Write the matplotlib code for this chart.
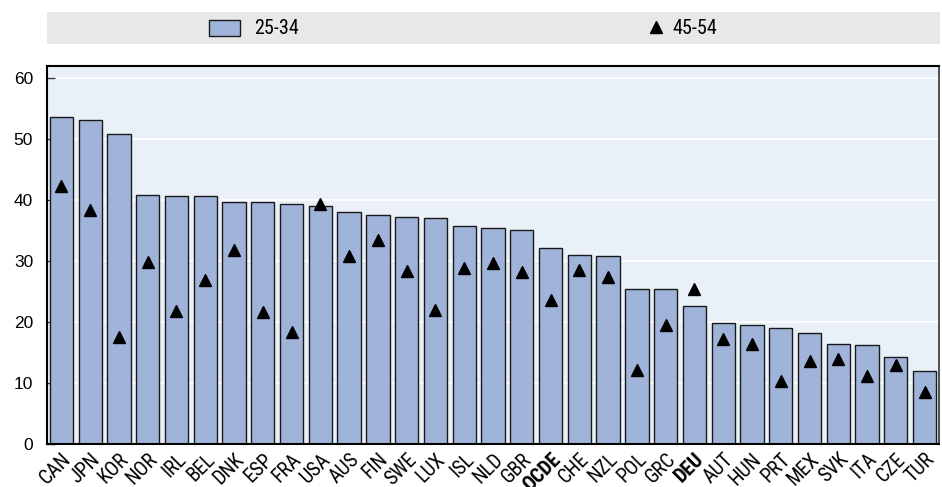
import matplotlib
matplotlib.use("Agg")
import matplotlib.pyplot as plt
from matplotlib.patches import Rectangle

countries = ["CAN", "JPN", "KOR", "NOR", "IRL", "BEL", "DNK", "ESP", "FRA", "USA",
             "AUS", "FIN", "SWE", "LUX", "ISL", "NLD", "GBR", "OCDE", "CHE", "NZL",
             "POL", "GRC", "DEU", "AUT", "HUN", "PRT", "MEX", "SVK", "ITA", "CZE", "TUR"]
age_25_34 = [53.7, 53.1, 50.9, 40.9, 40.7, 40.6, 39.7, 39.7, 39.3, 39.1,
             38.0, 37.6, 37.2, 37.0, 35.8, 35.4, 35.1, 32.2, 31.0, 30.8,
             25.5, 25.4, 22.6, 19.8, 19.6, 19.1, 18.2, 16.4, 16.2, 14.3, 11.9]
age_45_54 = [42.3, 38.4, 17.6, 29.8, 21.8, 26.9, 31.9, 21.6, 18.4, 39.4,
             30.8, 33.5, 28.4, 22.0, 28.8, 29.7, 28.2, 23.6, 28.5, 27.4,
             12.1, 19.5, 25.5, 17.3, 16.4, 10.3, 13.6, 14.0, 11.2, 12.9, 8.6]
bold_labels = ["OCDE", "DEU"]
yticks = [0, 10, 20, 30, 40, 50, 60]

W, H = 942, 487
fig = plt.figure(figsize=(W / 100, H / 100), dpi=100)

label_font = ["Roboto Condensed", "DejaVu Sans"]
tick_font = ["Liberation Sans", "DejaVu Sans"]

ax = fig.add_axes([47 / W, 1 - 444 / H, (939 - 47) / W, (444 - 66) / H])
ax.set_facecolor("#eaf0f8")
x = list(range(len(countries)))
ax.bar(x, age_25_34, width=0.81, color="#a0b4da", edgecolor="#1a1a1a", linewidth=1.0, zorder=2)
ax.plot(x, age_45_54, linestyle="none", marker="^", markersize=9, color="black", zorder=3)

ax.set_xlim(-0.5, len(countries) - 0.5)
ax.set_ylim(0, 62)
ax.set_yticks(yticks)
ax.set_yticklabels([str(t) for t in yticks], fontsize=12.5, family=tick_font)
ax.yaxis.grid(True, color="white", linewidth=1.3, zorder=0)
ax.set_axisbelow(True)
ax.tick_params(axis="y", direction="in", length=6, width=1, color="#333333", pad=10)
ax.tick_params(axis="x", length=0, pad=4)

ax.set_xticks(x)
ax.set_xticklabels(countries, rotation=45, ha="right", va="top", rotation_mode="anchor",
                   fontsize=14.5, family=label_font)
for lbl in ax.get_xticklabels():
    if lbl.get_text() in bold_labels:
        lbl.set_fontweight("bold")

for side in ["left", "top", "bottom"]:
    ax.spines[side].set_color("black")
    ax.spines[side].set_linewidth(1.5)
ax.spines["right"].set_color("#333333")
ax.spines["right"].set_linewidth(1.2)

# legend band
leg_ax = fig.add_axes([47 / W, 1 - 44 / H, (940 - 47) / W, (44 - 12) / H])
leg_ax.set_facecolor("#e8e8e8")
for s in leg_ax.spines.values():
    s.set_visible(False)
leg_ax.set_xticks([])
leg_ax.set_yticks([])
leg_ax.set_xlim(47, 940)
leg_ax.set_ylim(0, 1)
leg_ax.add_patch(Rectangle((209, 0.25), 31, 0.5, facecolor="#a0b4da", edgecolor="#1a1a1a", linewidth=1.0))
leg_ax.text(254, 0.5, "25-34", va="center", ha="left", fontsize=14.5, family=label_font)
leg_ax.plot([656], [0.52], marker="^", markersize=9, color="black", linestyle="none")
leg_ax.text(672, 0.5, "45-54", va="center", ha="left", fontsize=14.5, family=label_font)

fig.savefig("out.png", dpi=100)
